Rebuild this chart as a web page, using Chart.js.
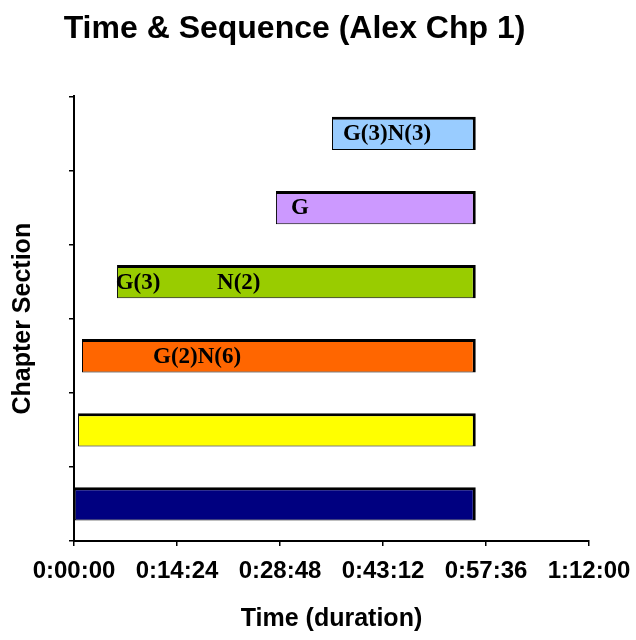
<!DOCTYPE html>
<html lang="en">
<head>
<meta charset="UTF-8" />
<title>Time &amp; Sequence (Alex Chp 1)</title>
<style>
  html, body { margin: 0; padding: 0; background: #fff; }
  canvas { display: block; }
</style>
<script src="https://cdn.jsdelivr.net/npm/chart.js"></script>
</head>
<body>
<canvas id="chart" width="636" height="640"></canvas>
<script>
// one row per chapter section, top row first
const sections = ['Section 6', 'Section 5', 'Section 4', 'Section 3', 'Section 2', 'Section 1'];
// start and end of each section, in seconds
const startSecs = [2164, 1694, 361, 67, 34, 0];
const endSecs = [3370, 3370, 3370, 3370, 3370, 3370];
const barColors = ['#99ccff', '#cc99ff', '#99cc00', '#ff6600', '#ffff00', '#000080'];

// notes written inside the bars
const noteRows = [0, 1, 2, 2, 3];
const noteSecs = [2256, 1820, 350, 1200, 663];
const noteTexts = ['G(3)N(3)', 'G', 'G(3)', 'N(2)', 'G(2)N(6)'];

const axisMax = 4320;   // 1:12:00
const axisStep = 864;   // 0:14:24

function hms(sec) {
  const h = Math.floor(sec / 3600);
  const m = Math.floor((sec % 3600) / 60);
  const s = sec % 60;
  return h + ':' + String(m).padStart(2, '0') + ':' + String(s).padStart(2, '0');
}

const barNotes = {
  id: 'barNotes',
  afterDatasetsDraw(chart) {
    const ctx = chart.ctx;
    const meta = chart.getDatasetMeta(0);
    const x = chart.scales.x;
    ctx.save();
    ctx.font = 'bold 23px "Liberation Serif"';
    ctx.fillStyle = '#000';
    ctx.textBaseline = 'middle';
    ctx.textAlign = 'left';
    noteTexts.forEach((t, i) => {
      ctx.fillText(t, x.getPixelForValue(noteSecs[i]), meta.data[noteRows[i]].y + 1);
    });
    ctx.restore();
  }
};

Chart.defaults.font.family = '"Liberation Sans", Arial, sans-serif';
Chart.defaults.color = '#000';

const axisFont = { size: 25, weight: 'bold' };

new Chart(document.getElementById('chart'), {
  type: 'bar',
  data: {
    labels: sections,
    datasets: [{
      data: sections.map((_, i) => [startSecs[i], endSecs[i]]),
      backgroundColor: barColors,
      borderColor: '#000',
      borderWidth: { top: 3, right: 3, bottom: 1, left: 1 },
      borderSkipped: false,
      barPercentage: 0.45,
      categoryPercentage: 1
    }]
  },
  plugins: [barNotes],
  options: {
    indexAxis: 'y',
    responsive: false,
    animation: false,
    layout: { padding: { left: 0, right: 47, top: 0, bottom: 0 } },
    plugins: {
      legend: { display: false },
      tooltip: { enabled: false },
      title: {
        display: true,
        text: 'Time & Sequence (Alex Chp 1)',
        font: { size: 32, weight: 'bold' },
        color: '#000',
        padding: { top: 10, bottom: 48 }
      }
    },
    scales: {
      x: {
        type: 'linear',
        min: 0,
        max: axisMax,
        ticks: {
          stepSize: axisStep,
          callback: v => hms(v),
          font: { size: 24, weight: 'bold' },
          color: '#000',
          padding: 11,
          maxRotation: 0,
          autoSkip: false
        },
        grid: { drawOnChartArea: false, tickLength: 5, color: '#000', lineWidth: 1.5 },
        border: { color: '#000', width: 2 },
        title: {
          display: true,
          text: 'Time (duration)',
          font: axisFont,
          color: '#000',
          padding: { bottom: 6 }
        },
        afterFit: s => {
          s.height = 99;
          // edge labels may overhang; the layout padding already leaves room
          s.paddingLeft = 0;
          s.paddingRight = 0;
        }
      },
      y: {
        ticks: { display: false },
        grid: { drawOnChartArea: false, tickLength: 5, color: '#000', lineWidth: 1.5 },
        border: { color: '#000', width: 2 },
        title: {
          display: true,
          text: 'Chapter Section',
          font: axisFont,
          color: '#000',
          padding: { top: 8 }
        },
        afterFit: s => { s.width = 74; }
      }
    }
  }
});
</script>
</body>
</html>
